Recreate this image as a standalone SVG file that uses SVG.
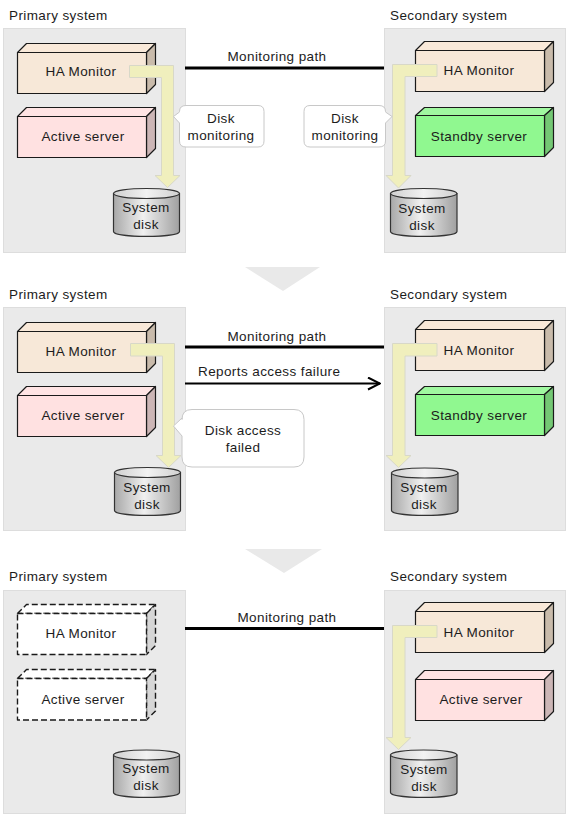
<svg xmlns="http://www.w3.org/2000/svg" width="569" height="817" viewBox="0 0 569 817">
<style>
text{font-family:"Liberation Sans",Arial,sans-serif;font-size:13.5px;fill:#1c1c1c;letter-spacing:.4px}
.m{text-anchor:middle}
.panel{fill:#eaeaea;stroke:#dddddd;stroke-width:1}
.tri{fill:#e9e9e9}
.f{stroke:#1a1a1a;stroke-width:1.2;stroke-linejoin:round}
.d{stroke-dasharray:6 3;stroke-width:1.4;fill:#fff}
.ds{stroke-dasharray:6 3;stroke-width:1.4;fill:#d6d6d6}
.flow{fill:#f0efbd;stroke:#d8d8c8;stroke-width:1}
.call{fill:#fff;stroke:#c8c8c8;stroke-width:1}
.cyl{fill:url(#g);stroke:#333;stroke-width:1.2}
.cap{fill:url(#c);stroke:#333;stroke-width:1.2}
.link{stroke:#000;stroke-width:3;fill:none}
</style>
<defs>
<linearGradient id="g"><stop offset="0" stop-color="#a8a8a8"/><stop offset=".45" stop-color="#f0f0f0"/><stop offset="1" stop-color="#a0a0a0"/></linearGradient>
<linearGradient id="c"><stop offset="0" stop-color="#d0d0d0"/><stop offset=".5" stop-color="#f2f2f2"/><stop offset="1" stop-color="#d0d0d0"/></linearGradient>
<marker id="open" markerUnits="userSpaceOnUse" markerWidth="14" markerHeight="16" refX="13" refY="7" orient="auto"><path d="M1 1L13 7L1 13" fill="none" stroke="#000" stroke-width="2"/></marker>
</defs>
<rect class="panel" x="3.5" y="28.5" width="182" height="224"/>
<rect class="panel" x="384.5" y="28.5" width="181" height="224"/>
<rect class="panel" x="3.5" y="307.5" width="182" height="223"/>
<rect class="panel" x="384.5" y="307.5" width="181" height="223"/>
<rect class="panel" x="3.5" y="590.5" width="182" height="223"/>
<rect class="panel" x="384.5" y="590.5" width="181" height="223"/>
<polygon class="tri" points="245,267 320,267 283,291"/>
<polygon class="tri" points="245,549 322,549 284,573"/>
<text x="9" y="20">Primary system</text><text x="390" y="20">Secondary system</text>
<text x="9" y="299">Primary system</text><text x="390" y="299">Secondary system</text>
<text x="9" y="581">Primary system</text><text x="390" y="581">Secondary system</text>

<g id="connectors">
<path class="link" d="M185 68H384M185 347H384M185 628.5H384"/>
<path d="M185 383.5H380" stroke="#000" stroke-width="2" fill="none" marker-end="url(#open)"/>
<text class="m" x="277" y="61">Monitoring path</text>
<text class="m" x="277" y="341">Monitoring path</text>
<text x="198" y="376">Reports access failure</text>
<text class="m" x="287" y="622">Monitoring path</text>
</g>

<g id="p1-ha"><path class="f" fill="#f9e9d9" d="M17.5 52.5L26.5 43.5H155.5L146.5 52.5Z"/><path class="f" fill="#c9bbab" d="M146.5 52.5L155.5 43.5V84.5L146.5 93.5Z"/><rect class="f" fill="#f7e8d8" x="17.5" y="52.5" width="129" height="41"/><text class="m" x="81" y="76">HA Monitor</text></g>
<g id="p1-active"><path class="f" fill="#ffe4e4" d="M17.5 116.5L26.5 107.5H155.5L146.5 116.5Z"/><path class="f" fill="#ccb6b6" d="M146.5 116.5L155.5 107.5V148.5L146.5 157.5Z"/><rect class="f" fill="#ffe1e1" x="17.5" y="116.5" width="129" height="41"/><text class="m" x="83" y="141">Active server</text></g>
<g id="p1-disk"><path class="cyl" d="M113.5 193.5V231.5C113.5 238 179.5 238 179.5 231.5V193.5Z"/><ellipse class="cap" cx="146.5" cy="193.5" rx="33" ry="5"/><text class="m" x="146" y="212">System</text><text class="m" x="146" y="229">disk</text></g>
<polygon class="flow" points="129.5,65.5 173.5,65.5 173.5,175.5 180,175.5 167.5,187.5 155,175.5 161.5,175.5 161.5,77.5 129.5,77.5"/>
<g id="p1-call"><path class="call" d="M186 105.5H258Q264 105.5 264 111.5V141Q264 147 258 147H186Q179.5 147 179.5 141V123L173.5 116.5L179.5 112V111.5Q179.5 105.5 186 105.5Z"/><text class="m" x="221" y="123">Disk</text><text class="m" x="221" y="140">monitoring</text></g>

<g id="s1-ha"><path class="f" fill="#f9e9d9" d="M415.5 50.5L424.5 41.5H553.5L544.5 50.5Z"/><path class="f" fill="#c9bbab" d="M544.5 50.5L553.5 41.5V82.5L544.5 91.5Z"/><rect class="f" fill="#f7e8d8" x="415.5" y="50.5" width="129" height="41"/><text class="m" x="479" y="75">HA Monitor</text></g>
<g id="s1-standby"><path class="f" fill="#a0f8a0" d="M415.5 115.5L424.5 107.5H553.5L544.5 115.5Z"/><path class="f" fill="#74c874" d="M544.5 115.5L553.5 107.5V147.5L544.5 156.5Z"/><rect class="f" fill="#90f890" x="415.5" y="115.5" width="129" height="41"/><text class="m" x="479" y="141">Standby server</text></g>
<g id="s1-disk"><path class="cyl" d="M390.5 193.5V231.5C390.5 238 457 238 457 231.5V193.5Z"/><ellipse class="cap" cx="423.7" cy="193.5" rx="33.2" ry="5"/><text class="m" x="422" y="213">System</text><text class="m" x="422" y="230">disk</text></g>
<polygon class="flow" points="437,64.5 392.5,64.5 392.5,175.5 386,175.5 398.5,188 411,175.5 405,175.5 405,76.5 437,76.5"/>
<g id="s1-call"><path class="call" d="M310 105.5H379Q385.5 105.5 385.5 111.5V112L392 116.5L385.5 123V141Q385.5 147 379 147H310Q304 147 304 141V111.5Q304 105.5 310 105.5Z"/><text class="m" x="345" y="123">Disk</text><text class="m" x="345" y="140">monitoring</text></g>

<g id="p2-ha"><path class="f" fill="#f9e9d9" d="M17.5 331.5L26.5 322.5H155.5L146.5 331.5Z"/><path class="f" fill="#c9bbab" d="M146.5 331.5L155.5 322.5V363.5L146.5 372.5Z"/><rect class="f" fill="#f7e8d8" x="17.5" y="331.5" width="129" height="41"/><text class="m" x="81" y="356">HA Monitor</text></g>
<g id="p2-active"><path class="f" fill="#ffe4e4" d="M17.5 395.5L26.5 386.5H155.5L146.5 395.5Z"/><path class="f" fill="#ccb6b6" d="M146.5 395.5L155.5 386.5V427.5L146.5 436.5Z"/><rect class="f" fill="#ffe1e1" x="17.5" y="395.5" width="129" height="41"/><text class="m" x="83" y="420">Active server</text></g>
<g id="p2-disk"><path class="cyl" d="M114.5 472.5V510.5C114.5 517 180.5 517 180.5 510.5V472.5Z"/><ellipse class="cap" cx="147.5" cy="472.5" rx="33" ry="5"/><text class="m" x="147" y="492">System</text><text class="m" x="147" y="509">disk</text></g>
<polygon class="flow" points="130.5,343.5 174.5,343.5 174.5,455.5 181,455.5 168.5,467.5 156,455.5 162.5,455.5 162.5,356 130.5,356"/>
<g id="p2-call"><path class="call" d="M192 409.5H294Q304 409.5 304 419.5V457Q304 467 294 467H192Q182 467 182 457V436L173.5 426L182 418V419.5Q182 409.5 192 409.5Z"/><text class="m" x="243" y="435">Disk access</text><text class="m" x="243" y="452">failed</text></g>

<g id="s2-ha"><path class="f" fill="#f9e9d9" d="M415.5 329.5L424.5 320.5H553.5L544.5 329.5Z"/><path class="f" fill="#c9bbab" d="M544.5 329.5L553.5 320.5V361.5L544.5 370.5Z"/><rect class="f" fill="#f7e8d8" x="415.5" y="329.5" width="129" height="41"/><text class="m" x="479" y="355">HA Monitor</text></g>
<g id="s2-standby"><path class="f" fill="#a0f8a0" d="M415.5 394.5L424.5 386.5H553.5L544.5 394.5Z"/><path class="f" fill="#74c874" d="M544.5 394.5L553.5 386.5V426.5L544.5 435.5Z"/><rect class="f" fill="#90f890" x="415.5" y="394.5" width="129" height="41"/><text class="m" x="479" y="420">Standby server</text></g>
<g id="s2-disk"><path class="cyl" d="M391.5 473V510.5C391.5 517 458 517 458 510.5V473Z"/><ellipse class="cap" cx="424.7" cy="473" rx="33.2" ry="5"/><text class="m" x="424" y="492">System</text><text class="m" x="424" y="509">disk</text></g>
<polygon class="flow" points="437,343.5 392.5,343.5 392.5,455.5 386,455.5 398.5,467.5 411,455.5 405,455.5 405,356 437,356"/>

<g id="p3-ha"><path class="f d" d="M17.5 613.5L26.5 604.5H155.5L146.5 613.5Z"/><path class="f ds" d="M146.5 613.5L155.5 604.5V645.5L146.5 654.5Z"/><rect class="f d" x="17.5" y="613.5" width="129" height="41"/><text class="m" x="81" y="638">HA Monitor</text></g>
<g id="p3-active"><path class="f d" d="M17.5 678.5L26.5 669.5H155.5L146.5 678.5Z"/><path class="f ds" d="M146.5 678.5L155.5 669.5V711L146.5 720Z"/><rect class="f d" x="17.5" y="678.5" width="129" height="41.5"/><text class="m" x="83" y="704">Active server</text></g>
<g id="p3-disk"><path class="cyl" d="M113.5 755V792.5C113.5 799 179.5 799 179.5 792.5V755Z"/><ellipse class="cap" cx="146.5" cy="755" rx="33" ry="5"/><text class="m" x="146" y="773">System</text><text class="m" x="146" y="790">disk</text></g>

<g id="s3-ha"><path class="f" fill="#f9e9d9" d="M415.5 611.5L424.5 602.5H553.5L544.5 611.5Z"/><path class="f" fill="#c9bbab" d="M544.5 611.5L553.5 602.5V643.5L544.5 652.5Z"/><rect class="f" fill="#f7e8d8" x="415.5" y="611.5" width="129" height="41"/><text class="m" x="479" y="637">HA Monitor</text></g>
<g id="s3-active"><path class="f" fill="#ffe4e4" d="M415.5 679.5L424.5 670.5H553.5L544.5 679.5Z"/><path class="f" fill="#ccb6b6" d="M544.5 679.5L553.5 670.5V711.5L544.5 720.5Z"/><rect class="f" fill="#ffe1e1" x="415.5" y="679.5" width="129" height="41"/><text class="m" x="481" y="704">Active server</text></g>
<g id="s3-disk"><path class="cyl" d="M390.5 755V792.5C390.5 799 457 799 457 792.5V755Z"/><ellipse class="cap" cx="423.7" cy="755" rx="33.2" ry="5"/><text class="m" x="424" y="774">System</text><text class="m" x="424" y="791">disk</text></g>
<polygon class="flow" points="437,625.5 392.5,625.5 392.5,737.5 386,737.5 398.5,749.5 411,737.5 405,737.5 405,637.5 437,637.5"/>
</svg>
